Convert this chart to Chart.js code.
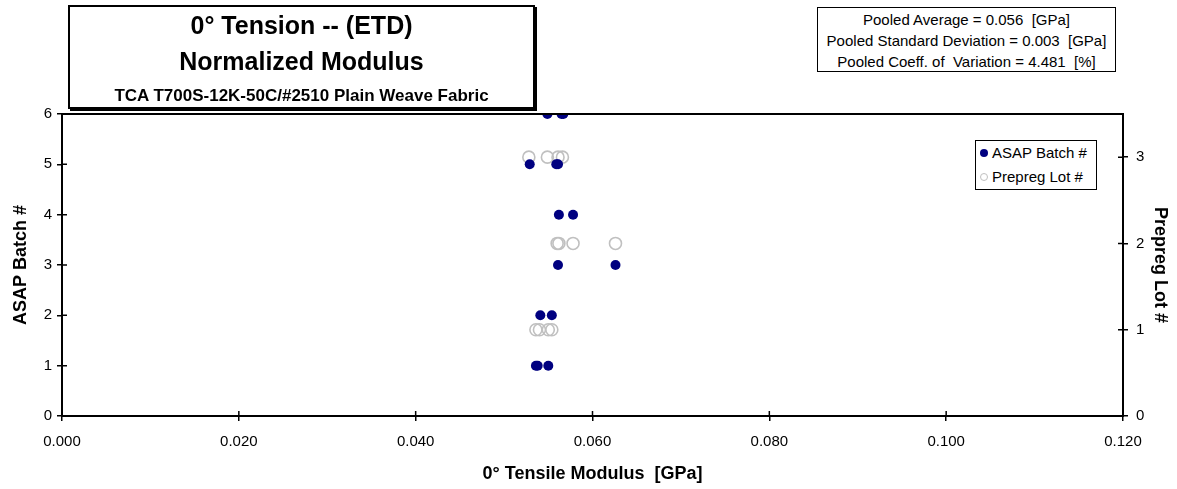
<!DOCTYPE html>
<html>
<head>
<meta charset="utf-8">
<script src="https://cdn.jsdelivr.net/npm/chart.js@4/dist/chart.umd.min.js"></script>
<style>
  body { margin:0; background:#fff; font-family:"Liberation Sans", Arial, sans-serif; }
  #wrap { position:relative; width:1177px; height:489px; }
  #titleBox { position:absolute; left:68px; top:5px; width:463px; height:100px; border:2px solid #000;
    box-shadow:2px 2px 0 #000; background:#fff; text-align:center; font-weight:bold; white-space:nowrap; }
  #titleBox .t1 { font-size:25px; line-height:25px; margin-top:6px; }
  #titleBox .t2 { font-size:25px; line-height:25px; margin-top:11px; }
  #titleBox .t3 { font-size:17px; line-height:17px; margin-top:13px; }
  #statsBox { position:absolute; left:817px; top:7px; width:297px; height:62px; border:1px solid #000;
    background:#fff; text-align:center; font-size:15px; line-height:21px; padding-top:1px; box-sizing:content-box; white-space:nowrap; }
  #legendBox { position:absolute; left:975px; top:140px; width:120px; height:48px; border:1px solid #000;
    background:#fff; font-size:15px; white-space:nowrap; }
  #legendBox div { height:24px; line-height:24px; padding-left:4px; }
  .dot { display:inline-block; width:8px; height:8px; border-radius:50%; margin-right:4px; vertical-align:1px; box-sizing:border-box; }
</style>
</head>
<body>
<div id="wrap">
  <canvas id="myChart" width="1177" height="489"></canvas>
  <div id="titleBox">
    <div class="t1">0° Tension -- (ETD)</div>
    <div class="t2">Normalized Modulus</div>
    <div class="t3">TCA T700S-12K-50C/#2510 Plain Weave Fabric</div>
  </div>
  <div id="statsBox">
    Pooled Average = 0.056&nbsp; [GPa]<br>
    Pooled Standard Deviation = 0.003&nbsp; [GPa]<br>
    Pooled Coeff. of&nbsp; Variation = 4.481&nbsp; [%]
  </div>
  <div id="legendBox"></div>
</div>
<script>
  // modulus values per ASAP batch (GPa)
  const batchNumbers = [1, 2, 3, 4, 5, 6];
  const batchModulus = [
    [0.0536, 0.0538, 0.0550],
    [0.0541, 0.0554],
    [0.0561, 0.0626],
    [0.0562, 0.0578],
    [0.0529, 0.0559, 0.0561],
    [0.0549, 0.0565, 0.0567]
  ];
  // modulus values per prepreg lot (GPa)
  const lotNumbers = [1, 2, 3];
  const lotModulus = [
    [0.0536, 0.0540, 0.0550, 0.0554],
    [0.0560, 0.0562, 0.0578, 0.0626],
    [0.0528, 0.0549, 0.0561, 0.0566]
  ];
  const xTicks = [0, 0.02, 0.04, 0.06, 0.08, 0.10, 0.12];
  const batchTicks = [0, 1, 2, 3, 4, 5, 6];
  const lotTicks = [0, 1, 2, 3];
  const seriesNames = ['ASAP Batch #', 'Prepreg Lot #'];

  function toPoints(ids, vals){
    let pts = [];
    ids.forEach((id, i) => {
      for (let v of vals[i]) pts.push({x: v, y: id});
    });
    return pts;
  }

  const fam = '"Liberation Sans", Arial, sans-serif';
  const font = {family: fam, size: 15};
  const titleFont = {family: fam, size: 18, weight: 'bold'};

  // tick marks crossing the axis lines + box round the plot
  const frame = {
    id: 'frame',
    afterDraw(chart){
      const ctx = chart.ctx, a = chart.chartArea;
      ctx.save();
      ctx.strokeStyle = '#000';
      ctx.lineWidth = 2;
      ctx.strokeRect(a.left, a.top, a.right - a.left, a.bottom - a.top);
      ctx.lineWidth = 1.5;
      ctx.beginPath();
      const sx = chart.scales.x, sy = chart.scales.y, sy2 = chart.scales.y2;
      sx.ticks.forEach((t, i) => { const p = sx.getPixelForTick(i); ctx.moveTo(p, a.bottom); ctx.lineTo(p, a.bottom - 5); });
      sy.ticks.forEach((t, i) => { const p = sy.getPixelForTick(i); ctx.moveTo(a.left, p); ctx.lineTo(a.left + 5, p); });
      sy2.ticks.forEach((t, i) => { const p = sy2.getPixelForTick(i); ctx.moveTo(a.right, p); ctx.lineTo(a.right - 5, p); });
      ctx.stroke();
      ctx.restore();
    }
  };

  const data = {
    datasets: [
      {
        label: seriesNames[0],
        data: toPoints(batchNumbers, batchModulus),
        yAxisID: 'y',
        backgroundColor: '#000080',
        borderColor: '#000080',
        pointRadius: 5,
        pointBorderWidth: 0
      },
      {
        label: seriesNames[1],
        data: toPoints(lotNumbers, lotModulus),
        yAxisID: 'y2',
        backgroundColor: 'rgba(0,0,0,0)',
        borderColor: '#c0c0c0',
        pointRadius: 6,
        pointBorderWidth: 1.6
      }
    ]
  };

  const config = {
    type: 'scatter',
    data,
    options: {
      responsive: false,
      animation: false,
      layout: {padding: {top: 114, right: 0, left: 0, bottom: 0}},
      plugins: {legend: {display: false}, tooltip: {enabled: false}},
      scales: {
        x: {
          type: 'linear', min: 0, max: 0.12,
          afterBuildTicks: s => { s.ticks = xTicks.map(v => ({value: v})); },
          afterFit: s => { s.height = 73; },
          ticks: {color: '#000', font, padding: 12, callback: v => v.toFixed(3)},
          grid: {drawOnChartArea: false, color: '#000', tickLength: 5, lineWidth: 1.5},
          border: {color: '#000', width: 2},
          title: {display: true, text: '0° Tensile Modulus  [GPa]', color: '#000',
                  font: titleFont, padding: {top: 0, bottom: 4}}
        },
        y: {
          position: 'left', min: 0, max: 6,
          afterBuildTicks: s => { s.ticks = batchTicks.map(v => ({value: v})); },
          afterFit: s => { s.width = 62; },
          ticks: {color: '#000', font, padding: 5},
          grid: {drawOnChartArea: false, color: '#000', tickLength: 5, lineWidth: 1.5},
          border: {color: '#000', width: 2},
          title: {display: true, text: 'ASAP Batch #', color: '#000',
                  font: titleFont, padding: {top: 10, bottom: 0}}
        },
        y2: {
          position: 'right', min: 0, max: 3.5,
          afterFit: s => { s.width = 54; },
          afterBuildTicks: s => { s.ticks = lotTicks.map(v => ({value: v})); },
          ticks: {color: '#000', font, padding: 8},
          grid: {drawOnChartArea: false, color: '#000', tickLength: 5, lineWidth: 1.5},
          border: {color: '#000', width: 2},
          title: {display: true, text: 'Prepreg Lot #', color: '#000',
                  font: titleFont, padding: {top: 6, bottom: 0}}
        }
      }
    },
    plugins: [frame]
  };

  const myChart = new Chart(document.getElementById('myChart'), config);

  // legend box inside the plot
  const lg = document.getElementById('legendBox');
  lg.innerHTML = `
    <div><span class="dot" style="background:#000080"></span>${seriesNames[0]}</div>
    <div><span class="dot" style="border:1px solid #c0c0c0"></span>${seriesNames[1]}</div>`;
</script>
</body>
</html>
